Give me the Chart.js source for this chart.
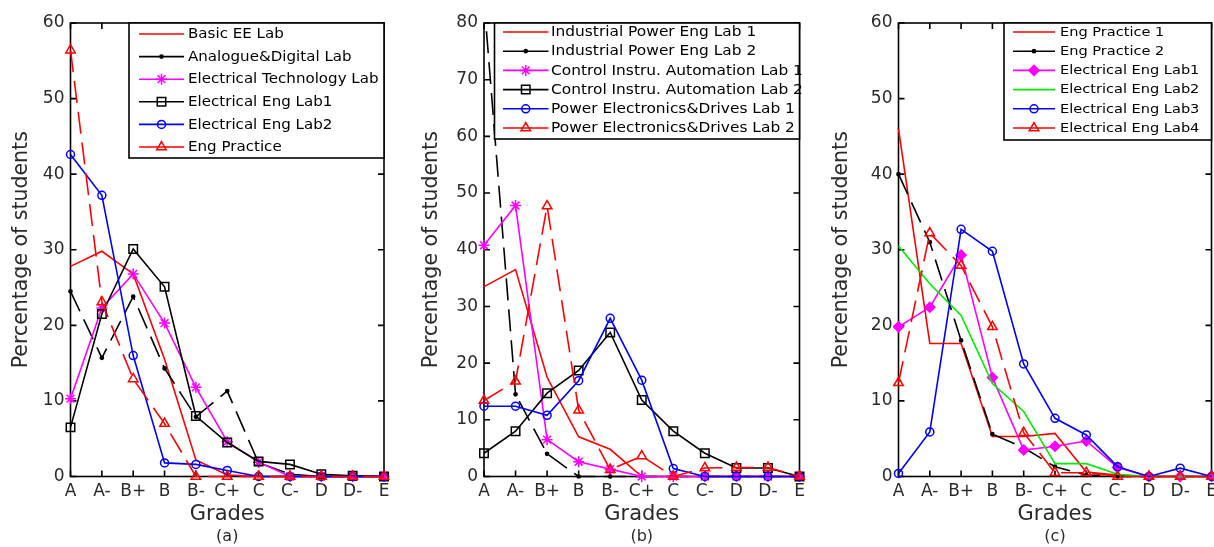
<!DOCTYPE html>
<html>
<head>
<meta charset="utf-8">
<title>Grade distributions by laboratory</title>
<script src="https://cdn.jsdelivr.net/npm/chart.js@4.4.1/dist/chart.umd.min.js"></script>
<style>
  html, body { margin: 0; padding: 0; background: #ffffff; overflow: hidden; width: 1214px; height: 547px; }
  canvas { position: absolute; top: 0; }
</style>
</head>
<body>
<canvas id="chartA" width="400" height="547" style="left:0px"></canvas>
<canvas id="chartB" width="400" height="547" style="left:410px"></canvas>
<canvas id="chartC" width="410" height="547" style="left:820px"></canvas>
<script>
// Grade categories shared by all three panels
const grades = ['A', 'A-', 'B+', 'B', 'B-', 'C+', 'C', 'C-', 'D', 'D-', 'E'];

// Y axis ranges (percentage of students)
const yMaxA = 60, yMaxB = 80, yMaxC = 60, yStep = 10;

// Panel (a)
const basicEE          = [27.8, 29.8, 26.8, 15.5, 2.2, 0.2, 0, 0, 0, 0, 0];
const analogueDigital  = [24.5, 15.7, 23.8, 14.3, 7.9, 11.3, 1.8, 0.3, 0, 0, 0];
const electricalTech   = [10.3, 22.3, 26.8, 20.3, 11.8, 4.6, 1.9, 0, 0, 0, 0];
const elecEngLab1A     = [6.5, 21.5, 30.1, 25.1, 8.0, 4.5, 2.0, 1.6, 0.3, 0.1, 0];
const elecEngLab2A     = [42.6, 37.2, 16.0, 1.8, 1.6, 0.8, 0, 0, 0, 0, 0];
const engPractice      = [56.4, 23.1, 12.9, 7.0, 0, 0, 0, 0, 0, 0, 0];

// Panel (b)
const indPowerLab1     = [33.5, 36.5, 17.5, 7.0, 4.8, 0, 0, 0, 0, 0, 0];
const indPowerLab2     = [84, 14.5, 4.0, 0, 0, 0, 0, 0, 0, 0, 0];
const ctrlAutoLab1     = [40.8, 47.8, 6.5, 2.6, 1.3, 0, 0, 0, 0, 0, 0];
const ctrlAutoLab2     = [4.1, 8.0, 14.7, 18.7, 25.4, 13.5, 8.0, 4.1, 1.5, 1.5, 0];
const powerElecLab1    = [12.4, 12.4, 10.8, 16.9, 27.9, 17.0, 1.4, 0, 0, 0, 0];
const powerElecLab2    = [13.4, 16.8, 47.7, 11.7, 1.2, 3.6, 0, 1.5, 1.6, 1.6, 0];

// Panel (c)
const engPractice1     = [46.0, 17.6, 17.6, 5.3, 5.3, 5.7, 0.6, 0.2, 0, 0, 0];
const engPractice2     = [40.0, 31.0, 18.0, 5.6, 3.8, 1.3, 0.2, 0, 0, 0, 0];
const elecEngLab1C     = [19.8, 22.4, 29.3, 13.1, 3.5, 4.0, 4.7, 1.2, 0, 0, 0];
const elecEngLab2C     = [30.5, 25.5, 21.3, 12.3, 8.6, 1.7, 1.7, 0.3, 0, 0, 0];
const elecEngLab3C     = [0.4, 5.9, 32.7, 29.8, 14.9, 7.7, 5.5, 1.3, 0, 1.1, 0];
const elecEngLab4C     = [12.4, 32.2, 27.9, 19.8, 5.8, 0.5, 0.5, 0, 0, 0, 0];

const RED = '#ff0000', BLACK = '#000000', MAGENTA = '#ff00ff', BLUE = '#0000ff', GREEN = '#00ee00';
const TEXT = '#2a2a2a';
const FONT = "'DejaVu Sans', 'Liberation Sans', sans-serif";
Chart.defaults.font.family = FONT;

// Marker presets
const MARK = {
  none:     { pointStyle: 'circle',   pointRadius: 0,   fill: false },
  dot:      { pointStyle: 'circle',   pointRadius: 1.6, fill: true },
  star:     { pointStyle: 'star',     pointRadius: 5.5, fill: false },
  square:   { pointStyle: 'rect',     pointRadius: 6,   fill: false },
  circle:   { pointStyle: 'circle',   pointRadius: 4,   fill: false },
  triangle: { pointStyle: 'triangle', pointRadius: 5.5, fill: false },
  diamond:  { pointStyle: 'rectRot',  pointRadius: 5,   fill: true }
};

function series(label, data, color, marker, dashed) {
  const m = MARK[marker];
  return {
    label, data,
    borderColor: color,
    borderWidth: 1.6,
    borderDash: dashed ? [22, 9] : [],
    tension: 0,
    fill: false,
    pointStyle: m.pointStyle,
    pointRadius: m.pointRadius,
    pointBorderColor: color,
    pointBackgroundColor: m.fill ? color : 'rgba(0,0,0,0)',
    pointBorderWidth: 1.5,
    clip: { left: 10, right: 10, top: 0, bottom: 10 }
  };
}

// Axis frame with inward tick marks on all four sides
const framePlugin = {
  id: 'frame',
  beforeDatasetsDraw(chart) {
    const { ctx, chartArea: a, scales: { x, y } } = chart;
    const L = 6;
    ctx.save();
    ctx.strokeStyle = BLACK;
    ctx.lineWidth = 1.6;
    ctx.setLineDash([]);
    ctx.strokeRect(a.left, a.top, a.right - a.left, a.bottom - a.top);
    ctx.beginPath();
    y.ticks.forEach(t => {
      const py = y.getPixelForValue(t.value);
      ctx.moveTo(a.left, py); ctx.lineTo(a.left + L, py);
      ctx.moveTo(a.right, py); ctx.lineTo(a.right - L, py);
    });
    x.ticks.forEach((t, i) => {
      const px = x.getPixelForTick(i);
      ctx.moveTo(px, a.bottom); ctx.lineTo(px, a.bottom - L);
      ctx.moveTo(px, a.top); ctx.lineTo(px, a.top + L);
    });
    ctx.stroke();
    ctx.restore();
  }
};

// Boxed legend inside the plot area plus the panel caption underneath
const boxLegendPlugin = {
  id: 'boxLegend',
  afterDatasetsDraw(chart, args, o) {
    const { ctx, chartArea: a } = chart;
    ctx.save();
    ctx.setLineDash([]);
    ctx.fillStyle = '#ffffff';
    ctx.fillRect(o.left, a.top, a.right - o.left, o.bottom - a.top);
    ctx.strokeStyle = BLACK;
    ctx.lineWidth = 1.6;
    ctx.strokeRect(o.left, a.top, a.right - o.left, o.bottom - a.top);
    chart.data.datasets.forEach((ds, i) => {
      const yy = o.firstY + i * o.step;
      ctx.strokeStyle = ds.borderColor;
      ctx.lineWidth = ds.borderWidth;
      ctx.setLineDash([]);
      ctx.beginPath();
      ctx.moveTo(o.sampleX0, yy);
      ctx.lineTo(o.sampleX1, yy);
      ctx.stroke();
      if (ds.pointRadius > 0) {
        ctx.fillStyle = ds.pointBackgroundColor;
        ctx.strokeStyle = ds.pointBorderColor;
        ctx.lineWidth = ds.pointBorderWidth;
        Chart.helpers.drawPoint(ctx, {
          pointStyle: ds.pointStyle, radius: ds.pointRadius,
          rotation: 0, borderWidth: ds.pointBorderWidth
        }, (o.sampleX0 + o.sampleX1) / 2, yy);
      }
      ctx.fillStyle = BLACK;
      ctx.font = o.fontSize + 'px ' + FONT;
      ctx.textAlign = 'left';
      ctx.textBaseline = 'middle';
      ctx.save();
      ctx.translate(o.textX, yy + 0.5);
      ctx.scale(o.stretch, 1);
      ctx.fillText(ds.label, 0, 0);
      ctx.restore();
    });
    ctx.restore();
  },
  afterDraw(chart, args, o) {
    const { ctx, chartArea: a } = chart;
    ctx.save();
    ctx.fillStyle = TEXT;
    ctx.font = '16px ' + FONT;
    ctx.textAlign = 'center';
    ctx.textBaseline = 'middle';
    ctx.fillText(o.caption, (a.left + a.right) / 2, o.captionY);
    ctx.restore();
  }
};

function makeChart(id, datasets, yMax, axisWidth, padRight, legend) {
  const n = datasets.length;
  datasets.forEach((d, i) => { d.order = n - i; });
  return new Chart(document.getElementById(id), {
    type: 'line',
    data: { labels: grades, datasets },
    plugins: [framePlugin, boxLegendPlugin],
    options: {
      responsive: false,
      animation: false,
      events: [],
      layout: { padding: { top: 23, right: padRight, bottom: 0, left: 0 } },
      plugins: {
        legend: { display: false },
        tooltip: { enabled: false },
        boxLegend: legend
      },
      scales: {
        x: {
          type: 'category',
          offset: false,
          grid: { display: false, drawTicks: false },
          border: { display: false },
          ticks: { autoSkip: false, maxRotation: 0, padding: 5, color: TEXT, font: { size: 17 } },
          title: { display: true, text: 'Grades', color: TEXT, font: { size: 21 }, padding: { top: 0, bottom: 20 } },
          afterFit(scale) { scale.height = 70.5; }
        },
        y: {
          type: 'linear',
          min: 0, max: yMax,
          grid: { display: false, drawTicks: false },
          border: { display: false },
          ticks: { stepSize: yStep, padding: 6, color: TEXT, font: { size: 17 } },
          title: { display: true, text: 'Percentage of students', color: TEXT, font: { size: 20.5 }, padding: { top: 9, bottom: 0 } },
          afterFit(scale) { scale.width = axisWidth; }
        }
      }
    }
  });
}

makeChart('chartA', [
  series('Basic EE Lab', basicEE, RED, 'none', false),
  series('Analogue&Digital Lab', analogueDigital, BLACK, 'dot', true),
  series('Electrical Technology Lab', electricalTech, MAGENTA, 'star', false),
  series('Electrical Eng Lab1', elecEngLab1A, BLACK, 'square', false),
  series('Electrical Eng Lab2', elecEngLab2A, BLUE, 'circle', false),
  series('Eng Practice', engPractice, RED, 'triangle', true)
], yMaxA, 70.5, 16, {
  left: 129, bottom: 158, firstY: 34, step: 22.6,
  sampleX0: 139, sampleX1: 184, textX: 188, fontSize: 14.5, stretch: 1.04,
  caption: '(a)', captionY: 537
});

makeChart('chartB', [
  series('Industrial Power Eng Lab 1', indPowerLab1, RED, 'none', false),
  series('Industrial Power Eng Lab 2', indPowerLab2, BLACK, 'dot', true),
  series('Control Instru. Automation Lab 1', ctrlAutoLab1, MAGENTA, 'star', false),
  series('Control Instru. Automation Lab 2', ctrlAutoLab2, BLACK, 'square', false),
  series('Power Electronics&Drives Lab 1', powerElecLab1, BLUE, 'circle', false),
  series('Power Electronics&Drives Lab 2', powerElecLab2, RED, 'triangle', true)
], yMaxB, 74, 10.5, {
  left: 84.5, bottom: 139, firstY: 32, step: 19.2,
  sampleX0: 93, sampleX1: 138.5, textX: 141, fontSize: 14, stretch: 1.1,
  caption: '(b)', captionY: 537
});

makeChart('chartC', [
  series('Eng Practice 1', engPractice1, RED, 'none', false),
  series('Eng Practice 2', engPractice2, BLACK, 'dot', true),
  series('Electrical Eng Lab1', elecEngLab1C, MAGENTA, 'diamond', false),
  series('Electrical Eng Lab2', elecEngLab2C, GREEN, 'none', false),
  series('Electrical Eng Lab3', elecEngLab3C, BLUE, 'circle', false),
  series('Electrical Eng Lab4', elecEngLab4C, RED, 'triangle', true)
], yMaxC, 78.5, 18.5, {
  left: 184, bottom: 140, firstY: 32, step: 19.2,
  sampleX0: 193, sampleX1: 235, textX: 240, fontSize: 13, stretch: 1.12,
  caption: '(c)', captionY: 537
});
</script>
</body>
</html>
